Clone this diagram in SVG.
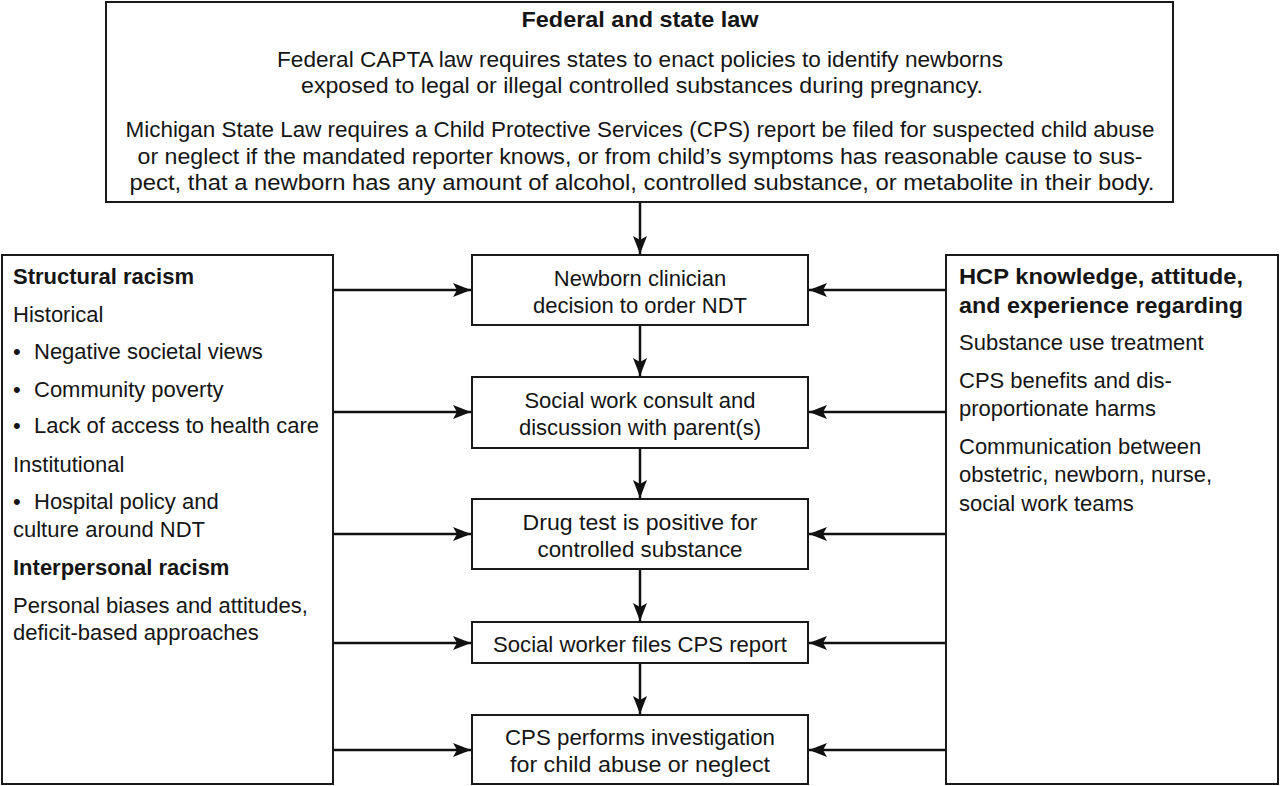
<svg xmlns="http://www.w3.org/2000/svg" width="1280" height="786" viewBox="0 0 1280 786">
<defs>
<style>
.box{fill:#fff;stroke:#1a1a1a;stroke-width:2}
.t{font-family:"Liberation Sans",Arial,sans-serif;font-size:22px;fill:#151515}
.b{font-weight:bold}
.c{text-anchor:middle}
.ln{stroke:#111;stroke-width:2.5;fill:none}
</style>
<marker id="ah" markerUnits="userSpaceOnUse" markerWidth="20" markerHeight="16" refX="18" refY="7" orient="auto">
<path d="M0,0 L18,7 L0,14 L4,7 z" fill="#111"/>
</marker>
</defs>
<rect width="1280" height="786" fill="#fff"/>
<g id="connectors">
<line class="ln" x1="640" y1="202" x2="640" y2="254" marker-end="url(#ah)"/>
<line class="ln" x1="640" y1="325" x2="640" y2="376" marker-end="url(#ah)"/>
<line class="ln" x1="640" y1="448" x2="640" y2="498" marker-end="url(#ah)"/>
<line class="ln" x1="640" y1="569" x2="640" y2="621" marker-end="url(#ah)"/>
<line class="ln" x1="640" y1="663" x2="640" y2="714" marker-end="url(#ah)"/>
<line class="ln" x1="333" y1="290" x2="471" y2="290" marker-end="url(#ah)"/>
<line class="ln" x1="333" y1="412" x2="471" y2="412" marker-end="url(#ah)"/>
<line class="ln" x1="333" y1="534" x2="471" y2="534" marker-end="url(#ah)"/>
<line class="ln" x1="333" y1="643" x2="471" y2="643" marker-end="url(#ah)"/>
<line class="ln" x1="333" y1="750" x2="471" y2="750" marker-end="url(#ah)"/>
<line class="ln" x1="946" y1="290" x2="809" y2="290" marker-end="url(#ah)"/>
<line class="ln" x1="946" y1="412" x2="809" y2="412" marker-end="url(#ah)"/>
<line class="ln" x1="946" y1="534" x2="809" y2="534" marker-end="url(#ah)"/>
<line class="ln" x1="946" y1="643" x2="809" y2="643" marker-end="url(#ah)"/>
<line class="ln" x1="946" y1="750" x2="809" y2="750" marker-end="url(#ah)"/>
</g>
<g id="law">
<rect class="box" x="106" y="2" width="1067" height="200"/>
<text class="t b c" x="640" y="27" textLength="237" lengthAdjust="spacingAndGlyphs">Federal and state law</text>
<text class="t c" x="640" y="67" textLength="726" lengthAdjust="spacingAndGlyphs">Federal CAPTA law requires states to enact policies to identify newborns</text>
<text class="t c" x="642" y="93" textLength="682" lengthAdjust="spacingAndGlyphs">exposed to legal or illegal controlled substances during pregnancy.</text>
<text class="t c" x="640" y="137" textLength="1029" lengthAdjust="spacingAndGlyphs">Michigan State Law requires a Child Protective Services (CPS) report be filed for suspected child abuse</text>
<text class="t c" x="640" y="164" textLength="1005" lengthAdjust="spacingAndGlyphs">or neglect if the mandated reporter knows, or from child’s symptoms has reasonable cause to sus-</text>
<text class="t c" x="642" y="190" textLength="1025" lengthAdjust="spacingAndGlyphs">pect, that a newborn has any amount of alcohol, controlled substance, or metabolite in their body.</text>
</g>
<g id="structural">
<rect class="box" x="2" y="255" width="331" height="529"/>
<text class="t b" x="13" y="284">Structural racism</text>
<text class="t" x="13" y="322">Historical</text>
<text class="t" x="13" y="359">•</text><text class="t" x="34" y="359">Negative societal views</text>
<text class="t" x="13" y="397">•</text><text class="t" x="34" y="397">Community poverty</text>
<text class="t" x="13" y="433">•</text><text class="t" x="34" y="433">Lack of access to health care</text>
<text class="t" x="13" y="472">Institutional</text>
<text class="t" x="13" y="509">•</text><text class="t" x="34" y="509">Hospital policy and</text>
<text class="t" x="13" y="537">culture around NDT</text>
<text class="t b" x="13" y="575">Interpersonal racism</text>
<text class="t" x="13" y="613">Personal biases and attitudes,</text>
<text class="t" x="13" y="640">deficit-based approaches</text>
</g>
<g id="hcp">
<rect class="box" x="946" y="255" width="332" height="529"/>
<text class="t b" x="959" y="284" textLength="284" lengthAdjust="spacingAndGlyphs">HCP knowledge, attitude,</text>
<text class="t b" x="959" y="313" textLength="284" lengthAdjust="spacingAndGlyphs">and experience regarding</text>
<text class="t" x="959" y="350">Substance use treatment</text>
<text class="t" x="959" y="388">CPS benefits and dis-</text>
<text class="t" x="959" y="416">proportionate harms</text>
<text class="t" x="959" y="454">Communication between</text>
<text class="t" x="959" y="482">obstetric, newborn, nurse,</text>
<text class="t" x="959" y="511">social work teams</text>
</g>
<g id="order">
<rect class="box" x="472" y="255" width="336" height="70"/>
<text class="t c" x="640" y="286">Newborn clinician</text>
<text class="t c" x="640" y="313">decision to order NDT</text>
</g>
<g id="consult">
<rect class="box" x="472" y="377" width="336" height="71"/>
<text class="t c" x="640" y="408">Social work consult and</text>
<text class="t c" x="640" y="435">discussion with parent(s)</text>
</g>
<g id="test">
<rect class="box" x="472" y="499" width="336" height="70"/>
<text class="t c" x="640" y="530" textLength="235" lengthAdjust="spacingAndGlyphs">Drug test is positive for</text>
<text class="t c" x="640" y="557" textLength="205" lengthAdjust="spacingAndGlyphs">controlled substance</text>
</g>
<g id="report">
<rect class="box" x="472" y="622" width="336" height="41"/>
<text class="t c" x="640" y="652" textLength="294" lengthAdjust="spacingAndGlyphs">Social worker files CPS report</text>
</g>
<g id="investigation">
<rect class="box" x="472" y="715" width="336" height="69"/>
<text class="t c" x="640" y="745" textLength="270" lengthAdjust="spacingAndGlyphs">CPS performs investigation</text>
<text class="t c" x="640" y="772" textLength="260" lengthAdjust="spacingAndGlyphs">for child abuse or neglect</text>
</g>
</svg>
